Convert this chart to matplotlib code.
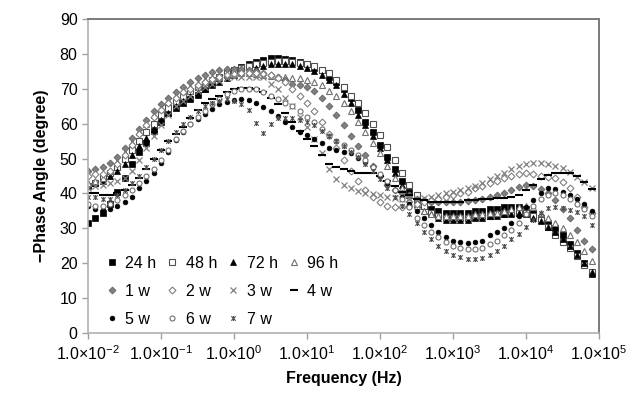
import numpy as np
import matplotlib
matplotlib.use("Agg")
import matplotlib.pyplot as plt
from matplotlib.path import Path

plt.rcParams['font.family'] = ['Liberation Sans', 'DejaVu Sans']
plt.rcParams['mathtext.fontset'] = 'custom'
plt.rcParams['mathtext.rm'] = 'Liberation Sans'
plt.rcParams['mathtext.it'] = 'Liberation Sans:italic'
plt.rcParams['mathtext.bf'] = 'Liberation Sans:bold'

# measurement frequency sweep: 10 points per decade, 1e-2 ... ~8e4 Hz
freq = np.logspace(-2, 4.9, 70)

h24 = [31.5, 33, 34.5, 37, 40.5, 44.5, 48.5, 52, 54.5, 58,
       60.5, 63, 64.5, 66, 67, 68.3, 70, 71.5, 73, 74,
       75.5, 76.3, 77, 77.8, 78.3, 78.8, 78.8, 78.5, 78.2, 77.7,
       77, 76, 75.3, 73.5, 72, 70, 67.5, 64, 60.5, 57.5,
       54, 50.5, 47, 43.5, 40.5, 38, 36.5, 35.5, 35, 34.5,
       34.5, 34.5, 34.5, 35, 35, 35.5, 35.5, 36, 36, 36,
       35.5, 34.5, 33, 31.5, 30, 28, 25.5, 23, 20, 17]
h48 = [42, 43, 44.5, 46, 47.5, 50, 52.5, 55, 57.5, 60,
       62.5, 64.5, 66.5, 68, 69.5, 70.5, 71.5, 72.5, 73.5, 74.5,
       75.5, 76, 76.5, 77, 77.5, 77.8, 78, 78, 77.8, 77.5,
       77, 76.5, 75.5, 74.5, 72.5, 70.5, 68, 66, 63, 60,
       56.7, 53.3, 49.6, 45.8, 42.4, 39.5, 36.5, 34.5, 33.5, 33,
       33, 33, 33, 33.2, 33.5, 33.5, 34, 34, 34.5, 34.5,
       34.5, 33.5, 32.5, 30.5, 28, 26, 24.5, 22, 19.5, 17.5]
h72 = [42.5, 43, 43.5, 45, 46.5, 48.5, 51, 53.5, 56, 58.5,
       61, 63, 65, 66.5, 68, 69, 70, 71, 72, 73,
       74, 74.8, 75.5, 76, 76.5, 77, 77.2, 77.2, 77, 76.5,
       76, 75, 74, 72.5, 71, 68.5, 66, 62.5, 59.5, 56.5,
       53, 49.5, 46, 42.5, 39.5, 37, 35, 34, 33, 32.5,
       32.5, 32.5, 32.5, 33, 33, 33.5, 33.5, 34, 34, 34.5,
       34, 33, 32, 30.5, 29, 27, 25, 22.5, 20, 17.5]
h96 = [43, 43.5, 44.5, 46.5, 49, 51.5, 54.5, 57.5, 60, 62.5,
       64.5, 66.5, 68, 69.5, 70.5, 71.5, 72.5, 73, 73.5, 74,
       74.3, 74.5, 74.5, 74.3, 74, 73.7, 73.5, 73.3, 73.2, 73,
       72.5, 72, 71, 69.5, 68, 66, 63.5, 60.5, 57.5, 54.5,
       51.5, 48, 44.5, 41.5, 38.5, 36.5, 35, 34, 33.5, 33.5,
       33.5, 33.5, 33.5, 34, 34, 34.5, 34.5, 35, 35.5, 36,
       36.5, 36, 34.5, 33, 31.5, 30, 28, 26, 23.5, 20.5]
w1 = [46.5, 47, 47.5, 48.7, 50.5, 53, 56, 58.5, 61, 63.5,
      65.5, 67.5, 69, 70.5, 72, 73, 74, 74.8, 75.3, 75.7,
      75.8, 75.7, 75.5, 75, 74.5, 74, 73.3, 72.5, 71.5, 71,
      70.5, 69.5, 67.5, 65, 62.5, 59.5, 56.5, 53.5, 51, 48,
      45, 42.5, 41, 40, 39.5, 38.5, 38, 37.5, 37.5, 37.5,
      37.5, 37.5, 37.7, 38, 38.5, 39, 39.5, 40.2, 41, 41.8,
      42.3, 42, 41.2, 40, 38, 35.5, 33, 29.5, 26.5, 24]
w2 = [45, 45.5, 45.5, 46.5, 48.5, 51, 54, 57, 59.5, 62,
      64, 66, 67.5, 69, 70, 71, 72, 72.8, 73.5, 74,
      74.3, 74.5, 74.5, 74.5, 74.3, 74, 73, 72, 70, 68,
      66, 63.5, 60.5, 57, 53, 49.5, 46.5, 43.5, 41, 39,
      37.5, 36.5, 36, 36, 36.5, 37, 37.5, 38, 38.5, 39,
      39.5, 40, 40.5, 41.5, 42, 43, 43.5, 44.5, 45, 45.5,
      45.8, 45.5, 45, 44.7, 44.4, 43.3, 41.5, 39, 36, 34.5]
w3 = [41.5, 42, 42.5, 43, 43.5, 44.5, 46.5, 49.5, 53, 56.5,
      59.5, 62.5, 65, 66.5, 68, 69.5, 70.5, 71.5, 72.3, 73,
      73.3, 73.5, 73.5, 73.5, 73.3, 71.5, 70, 67.5, 65, 62,
      59, 55.5, 51.5, 47, 44, 42.5, 41.5, 40.8, 40.2, 39.8,
      39.5, 39, 38.7, 38.5, 38.5, 38.5, 38.7, 39, 39.5, 40,
      40.5, 41, 41.5, 42, 43, 44, 45, 46, 47, 47.8,
      48.3, 48.7, 48.7, 48.5, 48, 47.3, 46.1, 44.7, 43.3, 41.5]
w4 = [40, 40, 39.5, 39.5, 40, 41, 42.5, 44.5, 47, 50,
      52.5, 55, 57, 59, 61.5, 64, 66, 67, 68, 69.2,
      70, 70.2, 70.2, 69.8, 69, 67.5, 65.5, 63, 60.5, 58,
      55.5, 53.5, 51, 48.5, 47.5, 47, 46.5, 46, 46, 46,
      45, 43.5, 42, 40.5, 39.5, 38.5, 38, 37.5, 37.5, 37.5,
      37.5, 37.5, 38, 38, 38.3, 38.5, 38.7, 38.8, 39, 39.5,
      41, 42.5, 44, 45.3, 45.8, 45.8, 45.8, 45, 43.3, 41.3]
w5 = [36.5, 35.5, 35.2, 35.5, 36.5, 37.5, 39, 41.5, 43.5, 46,
      48.8, 52, 55.3, 57.6, 59.8, 61.3, 62.8, 64.3, 65.5, 66.3,
      66.8, 67, 66.9, 66, 64.8, 63.7, 62.3, 60.5, 59.1, 57.7,
      56.7, 55.5, 54.5, 53, 52.5, 52, 51.5, 50.3, 49, 47.5,
      45, 43, 41, 39, 37, 35, 33, 31, 29, 27.5,
      26.5, 26, 25.8, 26, 26.5, 28, 29, 30, 31.5, 33.5,
      36, 38, 40, 41.5, 41.3, 40.5, 39.5, 38.5, 37, 35]
w6 = [37, 36.5, 36.5, 37, 38, 39.5, 41, 43, 45, 47,
      49.5, 52.5, 55.5, 58, 60, 62, 63.5, 65.5, 67, 68.5,
      69.3, 69.8, 70, 69.8, 69, 68, 67, 66, 65, 63.5,
      62, 60.5, 58.5, 56.5, 55, 54, 52.5, 51, 49.5, 47.5,
      45.5, 43.5, 41, 38.5, 36, 33, 31, 29, 27.5, 26,
      25, 24.3, 24, 24, 24.5, 25.5, 26.5, 28, 29.5, 31.5,
      34, 36.5, 38.5, 39.5, 40, 39.5, 38.5, 37, 35.5, 33.5]
w7 = [39, 39, 38.5, 38.5, 39.5, 41, 43, 45, 47.5, 50,
      52.5, 55, 57.5, 60, 62, 63.5, 65, 66, 66.5, 67,
      66.5, 65.5, 63.9, 60.2, 57.3, 60, 61.5, 61.5, 61.5, 61,
      60.5, 59.5, 58, 56.5, 55, 53.5, 52, 50.5, 48.5, 46.5,
      44, 41.5, 39, 36.5, 34, 31.5, 29, 27, 25, 23.5,
      22.5, 21.7, 21.3, 21.3, 21.5, 22.3, 23.5, 25, 27, 28.5,
      30.5, 32.5, 34.5, 35.8, 36, 35.7, 35.2, 34.8, 33.5, 31]

labels = ['24 h', '48 h', '72 h', '96 h', '1 w', '2 w', '3 w', '4 w', '5 w', '6 w', '7 w']
series = [h24, h48, h72, h96, w1, w2, w3, w4, w5, w6, w7]

xticks = [1e-2, 1e-1, 1e0, 1e1, 1e2, 1e3, 1e4, 1e5]
xticklabels = [r'$1.0{\times}10^{-2}$', r'$1.0{\times}10^{-1}$', r'$1.0{\times}10^{0}$',
               r'$1.0{\times}10^{1}$', r'$1.0{\times}10^{2}$', r'$1.0{\times}10^{3}$',
               r'$1.0{\times}10^{4}$', r'$1.0{\times}10^{5}$']
yticks = [0, 10, 20, 30, 40, 50, 60, 70, 80, 90]

# Excel-style "star" marker: an x with a vertical bar through it
star = Path([(-1, -1), (1, 1), (-1, 1), (1, -1), (0, -1.15), (0, 1.15)],
            [Path.MOVETO, Path.LINETO, Path.MOVETO, Path.LINETO, Path.MOVETO, Path.LINETO])

styles = [
    dict(marker='s', ms=4, mfc='black', mec='black', mew=0.5),
    dict(marker='s', ms=4, mfc='white', mec='#505050', mew=0.8),
    dict(marker='^', ms=4.5, mfc='black', mec='black', mew=0.5),
    dict(marker='^', ms=4.5, mfc='white', mec='#707070', mew=0.8),
    dict(marker='D', ms=3.5, mfc='#808080', mec='#606060', mew=0.6),
    dict(marker='D', ms=3.5, mfc='white', mec='#808080', mew=0.8),
    dict(marker='x', ms=4.5, mfc='none', mec='#808080', mew=0.9),
    dict(marker='_', ms=5.5, mfc='black', mec='black', mew=1.5),
    dict(marker='o', ms=3.4, mfc='black', mec='black', mew=0.5),
    dict(marker='o', ms=3.6, mfc='white', mec='#707070', mew=0.8),
    dict(marker=star, ms=3.6, mfc='none', mec='#505050', mew=0.8),
]

fig = plt.figure(figsize=(6.38, 3.93), dpi=100)
ax = fig.add_axes([88/638, 1-333/393, (599-88)/638, (333-19)/393])

handles = []
for vals, lab, st in zip(series, labels, styles):
    h, = ax.plot(freq, vals, linestyle='none', label=lab, **st)
    handles.append(h)

ax.set_xscale('log')
ax.set_xlim(1e-2, 1e5)
ax.set_ylim(0, 90)
ax.set_xticks(xticks)
ax.set_xticklabels(xticklabels)
ax.xaxis.set_minor_locator(matplotlib.ticker.NullLocator())
ax.set_yticks(yticks)
ax.tick_params(axis='both', labelsize=11.5, colors='#a0a0a0', labelcolor='black',
               direction='out', length=4, width=1)
ax.tick_params(axis='x', pad=4)

for s in ['left', 'bottom']:
    ax.spines[s].set_color('#b0b0b0')
    ax.spines[s].set_linewidth(1.2)
for s in ['top', 'right']:
    ax.spines[s].set_color('#7a7a7a')
    ax.spines[s].set_linewidth(1.4)

ax.set_xlabel('Frequency (Hz)', fontsize=11.5, fontweight='bold', labelpad=6)
ax.set_ylabel('\u2212Phase Angle (degree)', fontsize=11.5, fontweight='bold', labelpad=8)

order = [0, 4, 8, 1, 5, 9, 2, 6, 10, 3, 7]
leg = ax.legend([handles[i] for i in order], [labels[i] for i in order],
                ncol=4, loc='lower left', bbox_to_anchor=(0.012, -0.016),
                frameon=False, fontsize=11.5, handlelength=0.8,
                handletextpad=0.45, columnspacing=0.6, labelspacing=0.82,
                borderaxespad=0.3)

fig.savefig('out.png', dpi=100)
